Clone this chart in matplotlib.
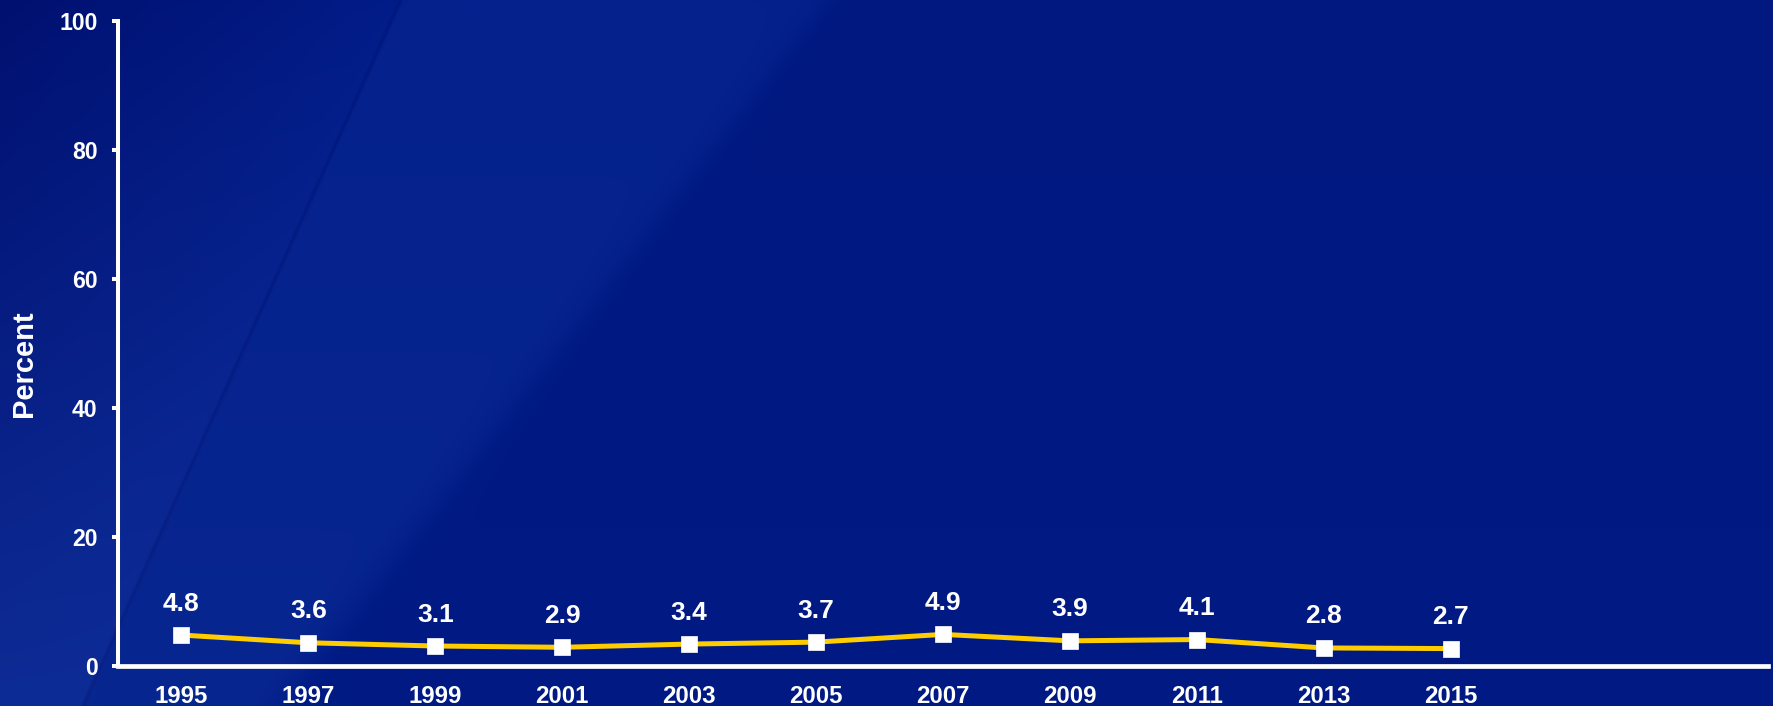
import numpy as np
import matplotlib
matplotlib.use("Agg")
import matplotlib.pyplot as plt

# Survey years and percentages
years = ["1995", "1997", "1999", "2001", "2003", "2005", "2007", "2009", "2011", "2013", "2015"]
values = [4.8, 3.6, 3.1, 2.9, 3.4, 3.7, 4.9, 3.9, 4.1, 2.8, 2.7]
y_ticks = [0, 20, 40, 60, 80, 100]
empty_slots = 2  # room kept on the right for future surveys

W, H = 1773, 706
DPI = 100

plt.rcParams["font.family"] = ["Liberation Sans", "DejaVu Sans"]
plt.rcParams["font.weight"] = "bold"


def slide_background(w, h):
    """Dark blue slide backdrop with soft diagonal light bands."""
    yy, xx = np.mgrid[0:h, 0:w].astype(float)
    t = (yy / (h - 1))[..., None]

    def col(c):
        return np.array(c, float)[None, None, :]

    right = col((0, 24, 128)) + (col((0, 26, 132)) - col((0, 24, 128))) * t
    middle = col((4, 33, 140)) + (col((8, 38, 144)) - col((4, 33, 140))) * t

    # left strip: dark in the top-left corner, brighter toward the bottom
    xa = 400 - 0.45 * yy
    u = np.clip(xx / np.maximum(xa, 1), 0, 1)[..., None]       # 0 at left edge, 1 at line A
    top_left = col((0, 16, 112)) * (1 - u) + col((2, 28, 136)) * u
    left = top_left + (col((14, 44, 150)) - top_left) * t

    xb = 827 - 0.78 * yy
    wa = 1 / (1 + np.exp(-(xx - xa) / 1.5))   # 1 right of line A
    wb = 1 / (1 + np.exp(-(xx - xb) / 10.0))  # 1 right of line B

    img = left * (1 - wa)[..., None] + middle * wa[..., None]
    img = img * (1 - wb)[..., None] + right * wb[..., None]

    # faint crease along line A
    crease = np.exp(-((xx - xa) ** 2) / (2 * 1.5 ** 2))
    img = img - crease[..., None] * np.array([3, 7, 12])[None, None, :]
    return np.clip(img, 0, 255).astype(np.uint8)


fig = plt.figure(figsize=(W / DPI, H / DPI), dpi=DPI)

bg_ax = fig.add_axes([0, 0, 1, 1], zorder=-10)
bg_ax.imshow(slide_background(W, H), aspect="auto", interpolation="bilinear")
bg_ax.set_axis_off()

left_px, right_px, top_px, bottom_px = 118, 1768, 21, 666
ax = fig.add_axes([left_px / W, (H - bottom_px) / H,
                   (right_px - left_px) / W, (bottom_px - top_px) / H])
ax.set_facecolor("none")

x = np.arange(len(years))
ax.plot(x, values, color="#FFCC00", lw=3.6, marker="s", markersize=11,
        markerfacecolor="white", markeredgecolor="white", markeredgewidth=0.5,
        zorder=5, clip_on=False)

for xi, v in zip(x, values):
    ax.annotate(f"{v:.1f}", (xi, v), xytext=(0, 17.6), textcoords="offset points",
                ha="center", va="baseline", color="white", fontsize=19,
                fontweight="bold")

ax.set_xlim(-0.5, len(years) - 0.5 + empty_slots)
ax.set_ylim(0, 100)
ax.set_xticks(x)
ax.set_xticklabels(years)
ax.set_yticks(y_ticks)
ax.set_yticklabels([str(v) for v in y_ticks])

for side in ("top", "right"):
    ax.spines[side].set_visible(False)
ax.spines["left"].set_color("white")
ax.spines["left"].set_linewidth(2.9)
ax.spines["bottom"].set_color("white")
ax.spines["bottom"].set_linewidth(3.4)

ax.tick_params(axis="y", direction="out", length=4.3, width=2.9, color="white",
               labelcolor="white", labelsize=16.6, pad=10.5)
ax.tick_params(axis="x", length=0, labelcolor="white", labelsize=17.3, pad=13.5)
for lab in ax.get_xticklabels() + ax.get_yticklabels():
    lab.set_fontweight("bold")

fig.text(24.5 / W, 1 - 364 / H, "Percent", rotation=90, ha="center", va="center",
         color="white", fontsize=21, fontweight="bold")

fig.savefig("out.png", dpi=DPI)
